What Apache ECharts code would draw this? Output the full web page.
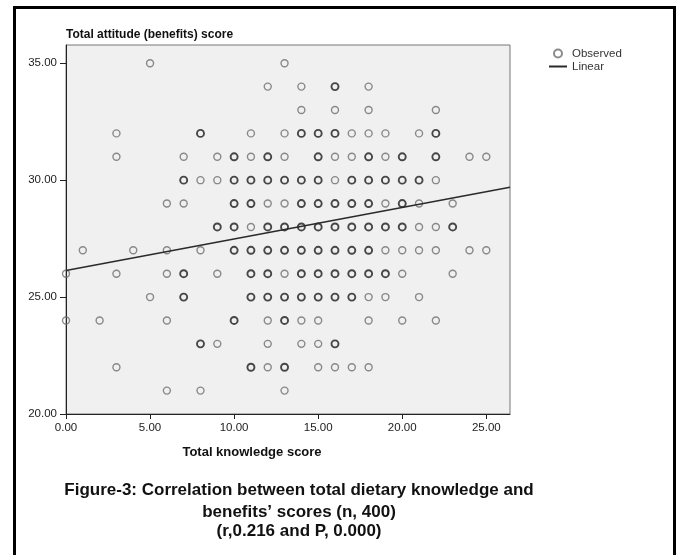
<!DOCTYPE html>
<html>
<head>
<meta charset="utf-8">
<script src="https://cdn.jsdelivr.net/npm/echarts@6/dist/echarts.min.js"></script>
<style>
  html, body { margin: 0; padding: 0; background: #fff; }
  #chart { width: 678px; height: 555px; }
</style>
</head>
<body>
<div id="chart"></div>
<script>
// knowledge (x) / attitude (y) pairs
// single observations (thin grey rings)
const observedSingle = [
  [5, 35], [13, 35],
  [12, 34], [14, 34], [18, 34],
  [14, 33], [16, 33], [18, 33], [22, 33],
  [3, 32], [11, 32], [13, 32], [17, 32], [18, 32], [19, 32], [21, 32],
  [3, 31], [7, 31], [9, 31], [11, 31], [13, 31], [16, 31], [17, 31], [19, 31], [24, 31], [25, 31],
  [8, 30], [9, 30], [16, 30], [22, 30],
  [6, 29], [7, 29], [12, 29], [13, 29], [19, 29], [21, 29], [23, 29],
  [11, 28], [21, 28], [22, 28],
  [1, 27], [4, 27], [6, 27], [8, 27], [19, 27], [20, 27], [21, 27], [22, 27], [24, 27], [25, 27],
  [0, 26], [3, 26], [6, 26], [9, 26], [13, 26], [20, 26], [23, 26],
  [5, 25], [18, 25], [19, 25], [21, 25],
  [0, 24], [2, 24], [6, 24], [12, 24], [14, 24], [15, 24], [18, 24], [20, 24], [22, 24],
  [9, 23], [12, 23], [14, 23], [15, 23],
  [3, 22], [12, 22], [15, 22], [16, 22], [17, 22], [18, 22],
  [6, 21], [8, 21], [13, 21]
]

// repeated observations (overprinted, darker rings)
const observedRepeated = [
  [16, 34],
  [8, 32], [14, 32], [15, 32], [16, 32], [22, 32],
  [10, 31], [12, 31], [15, 31], [18, 31], [20, 31], [22, 31],
  [7, 30], [10, 30], [11, 30], [12, 30], [13, 30], [14, 30], [15, 30], [17, 30], [18, 30], [19, 30], [20, 30], [21, 30],
  [10, 29], [11, 29], [14, 29], [15, 29], [16, 29], [17, 29], [18, 29], [20, 29],
  [9, 28], [10, 28], [12, 28], [13, 28], [14, 28], [15, 28], [16, 28], [17, 28], [18, 28], [19, 28], [20, 28], [23, 28],
  [10, 27], [11, 27], [12, 27], [13, 27], [14, 27], [15, 27], [16, 27], [17, 27], [18, 27],
  [7, 26], [11, 26], [12, 26], [14, 26], [15, 26], [16, 26], [17, 26], [18, 26], [19, 26],
  [7, 25], [11, 25], [12, 25], [13, 25], [14, 25], [15, 25], [16, 25], [17, 25],
  [10, 24], [13, 24],
  [8, 23], [16, 23],
  [11, 22], [13, 22]
]

// fitted linear line, end points at the plot edges
const linearFit = [[0, 26.14], [26.41, 29.70]]

const xTicks = [0, 5, 10, 15, 20, 25]
const yTicks = [20, 25, 30, 35]

const captionLines = [
  'Figure-3: Correlation between total dietary knowledge and',
  'benefits\u2019 scores (n, 400)',
  '(r,0.216 and P, 0.000)'
]

const FONT = '"Liberation Sans", Arial, sans-serif'
const NARROW = '"Liberation Sans Narrow", "Arial Narrow", "Liberation Sans", sans-serif'

const chart = echarts.init(document.getElementById('chart'), null, { renderer: 'canvas' })

const tickLabel = {
  color: '#222',
  fontFamily: NARROW,
  fontSize: 11.5,
  formatter: (v) => Number(v).toFixed(2)
}

const captionY = [490, 512, 531]

chart.setOption({
  animation: false,
  backgroundColor: '#fff',
  grid: {
    left: 66, top: 45, width: 444, height: 369,
    show: true, backgroundColor: '#f0f0f0', borderColor: '#777', borderWidth: 1
  },
  legend: {
    orient: 'vertical',
    left: 543,
    top: 42,
    itemWidth: 18,
    itemHeight: 8,
    itemGap: 0,
    selectedMode: false,
    textStyle: { color: '#333', fontFamily: FONT, fontSize: 11.5, lineHeight: 13 },
    data: [
      'Observed',
      // line only, no marker in the key
      { name: 'Linear', itemStyle: { opacity: 0 } }
    ]
  },
  xAxis: {
    type: 'value',
    min: 0,
    max: 26.41,
    name: 'Total knowledge score',
    nameLocation: 'middle',
    nameGap: 32,
    nameTextStyle: { color: '#111', fontFamily: FONT, fontWeight: 'bold', fontSize: 13, padding: [0, 72, 0, 0] },
    axisLine: { lineStyle: { color: '#222', width: 1 } },
    axisTick: { length: 5, lineStyle: { color: '#222' }, customValues: xTicks },
    axisLabel: { ...tickLabel, margin: 8, customValues: xTicks },
    splitLine: { show: false }
  },
  yAxis: {
    type: 'value',
    min: 20,
    max: 35.78,
    name: 'Total attitude (benefits) score',
    nameLocation: 'end',
    nameGap: 4,
    nameTextStyle: { color: '#111', fontFamily: FONT, fontWeight: 'bold', fontSize: 12, align: 'left' },
    axisLine: { show: true, lineStyle: { color: '#222', width: 1 } },
    axisTick: { show: true, length: 6, lineStyle: { color: '#222' }, customValues: yTicks },
    axisLabel: { ...tickLabel, margin: 9, customValues: yTicks },
    splitLine: { show: false }
  },
  series: [
    {
      name: 'Observed',
      type: 'scatter',
      symbol: 'circle',
      symbolSize: 7,
      silent: true,
      itemStyle: { color: 'rgba(0,0,0,0)', borderColor: '#6e6e6e', borderWidth: 1.4 },
      data: observedSingle
    },
    {
      name: 'Observed',
      type: 'scatter',
      symbol: 'circle',
      symbolSize: 7,
      silent: true,
      itemStyle: { color: 'rgba(0,0,0,0)', borderColor: '#1c1c1c', borderWidth: 1.9 },
      data: observedRepeated
    },
    {
      name: 'Linear',
      type: 'line',
      symbol: 'none',
      silent: true,
      itemStyle: { color: '#2a2a2a' },
      lineStyle: { color: '#2a2a2a', width: 1.5 },
      data: linearFit
    }
  ],
  graphic: [
    {
      type: 'rect',
      silent: true,
      shape: { x: 14.5, y: 7.5, width: 660, height: 600 },
      style: { fill: 'none', stroke: '#000', lineWidth: 3 }
    },
    ...captionLines.map((t, i) => ({
      type: 'text',
      silent: true,
      x: 299,
      y: captionY[i],
      style: {
        text: t,
        font: 'bold 17px ' + FONT,
        fill: '#111',
        align: 'center',
        verticalAlign: 'middle',
        textAlign: 'center',
        textVerticalAlign: 'middle'
      }
    }))
  ]
})
</script>
</body>
</html>
